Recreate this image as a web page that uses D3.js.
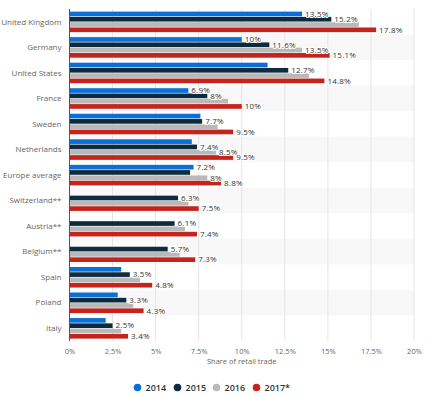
<!DOCTYPE html>
<meta charset="utf-8">
<style>
body { margin: 0; background: #fff; }
text { font-family: "Open Sans", sans-serif; }
.cat text { font-size: 8px; fill: #666; }
.xaxis text { font-size: 7.5px; fill: #666; }
.val { font-size: 8px; fill: #333; stroke: #fff; stroke-width: 2px; paint-order: stroke; letter-spacing: 0.2px; }
.legend text { font-size: 9px; fill: #333; font-weight: 600; }
</style>
<svg width="433" height="397"></svg>
<script src="https://d3js.org/d3.v7.min.js"></script>
<script>

var categories = ["United Kingdom", "Germany", "United States", "France", "Sweden", "Netherlands",
  "Europe average", "Switzerland**", "Austria**", "Belgium**", "Spain", "Poland", "Italy"];

var years = ["2014", "2015", "2016", "2017*"];
var colors = ["#0b6fd8", "#0d2a3f", "#b9b9b9", "#c4241c"];

// null = no bar
var v2014 = [13.5, 10, 11.5, 6.9, 7.6, 7.1, 7.2, null, null, null, 3.0, 2.8, 2.1];
var v2015 = [15.2, 11.6, 12.7, 8, 7.7, 7.4, 7.0, 6.3, 6.1, 5.7, 3.5, 3.3, 2.5];
var v2016 = [16.8, 13.5, 13.9, 9.2, 8.6, 8.5, 8, 6.9, 6.7, 6.4, 4.1, 3.7, 3.0];
var v2017 = [17.8, 15.1, 14.8, 10, 9.5, 9.5, 8.8, 7.5, 7.4, 7.3, 4.8, 4.3, 3.4];

// which bars carry a value label
var lab2014 = [1, 1, 0, 1, 0, 0, 1, 0, 0, 0, 0, 0, 0];
var lab2015 = [1, 1, 1, 1, 1, 1, 0, 1, 1, 1, 1, 1, 1];
var lab2016 = [0, 1, 0, 0, 0, 1, 1, 0, 0, 0, 0, 0, 0];
var lab2017 = [1, 1, 1, 1, 1, 1, 1, 1, 1, 1, 1, 1, 1];

var xTicks = [0, 2.5, 5, 7.5, 10, 12.5, 15, 17.5, 20];

var series = [v2014, v2015, v2016, v2017];
var labels = [lab2014, lab2015, lab2016, lab2017];

var svg = d3.select("svg"),
    margin = {top: 9, left: 69.5, right: 19, bottom: 56},
    width = +svg.attr("width") - margin.left - margin.right,
    height = +svg.attr("height") - margin.top - margin.bottom;

var x = d3.scaleLinear().domain([0, 20]).range([margin.left, margin.left + width]);
var y = d3.scaleBand().domain(categories).range([margin.top, margin.top + height]);
var yi = d3.scaleBand().domain(d3.range(4)).range([2.6, y.bandwidth() - 2.4]).paddingInner(0.12);

// alternating row backgrounds
svg.append("g").selectAll("rect")
    .data(categories.filter(function(d, i) { return i % 2 == 1; }))
    .enter().append("rect")
    .attr("x", margin.left)
    .attr("y", function(d) { return y(d); })
    .attr("width", width)
    .attr("height", y.bandwidth())
    .attr("fill", "#f8f8f8");

// grid
svg.append("g").selectAll("line")
    .data(xTicks.slice(1))
    .enter().append("line")
    .attr("x1", function(d) { return x(d); })
    .attr("x2", function(d) { return x(d); })
    .attr("y1", margin.top)
    .attr("y2", margin.top + height)
    .attr("stroke", "#e5e5e5")
    .attr("stroke-width", 1);

// bars
var rows = svg.append("g").selectAll("g")
    .data(categories)
    .enter().append("g")
    .attr("transform", function(d) { return "translate(0," + y(d) + ")"; });

series.forEach(function(s, k) {
  rows.filter(function(d, i) { return s[i] != null; })
    .append("rect")
    .attr("x", x(0))
    .attr("y", yi(k))
    .attr("height", yi.bandwidth())
    .attr("width", function(d) { return x(s[categories.indexOf(d)]) - x(0); })
    .attr("fill", colors[k]);
});

series.forEach(function(s, k) {
  rows.filter(function(d, i) { return s[i] != null && labels[k][i]; })
    .append("text")
    .attr("class", "val")
    .attr("x", function(d) { return x(s[categories.indexOf(d)]) + 3; })
    .attr("y", yi(k) + yi.bandwidth() / 2)
    .attr("dy", "0.35em")
    .text(function(d) { return s[categories.indexOf(d)] + "%"; });
});

// left axis line
svg.append("line")
    .attr("x1", x(0)).attr("x2", x(0))
    .attr("y1", margin.top).attr("y2", margin.top + height)
    .attr("stroke", "#555");

// category labels
svg.append("g").attr("class", "cat").selectAll("text")
    .data(categories)
    .enter().append("text")
    .attr("x", margin.left - 8)
    .attr("y", function(d) { return y(d) + y.bandwidth() / 2; })
    .attr("dy", "0.35em")
    .attr("text-anchor", "end")
    .text(function(d) { return d; });

// x axis
var xa = svg.append("g").attr("class", "xaxis")
    .attr("transform", "translate(0," + (margin.top + height) + ")")
    .call(d3.axisBottom(x).tickValues(xTicks).tickSize(0).tickPadding(8)
      .tickFormat(function(d) { return d + "%"; }));
xa.select(".domain").remove();

svg.append("text")
    .attr("x", margin.left + width / 2)
    .attr("y", 364)
    .attr("text-anchor", "middle")
    .style("font-size", "7.5px")
    .style("fill", "#666")
    .text("Share of retail trade");

// legend
var legX = [137.5, 177.5, 216.5, 256.5];
var leg = svg.append("g").attr("class", "legend").selectAll("g")
    .data(years)
    .enter().append("g")
    .attr("transform", function(d, i) { return "translate(" + legX[i] + ",387.5)"; });
leg.append("circle").attr("r", 3.8).attr("fill", function(d, i) { return colors[i]; });
leg.append("text").attr("x", 8).attr("dy", "0.35em").text(function(d) { return d; });

</script>
